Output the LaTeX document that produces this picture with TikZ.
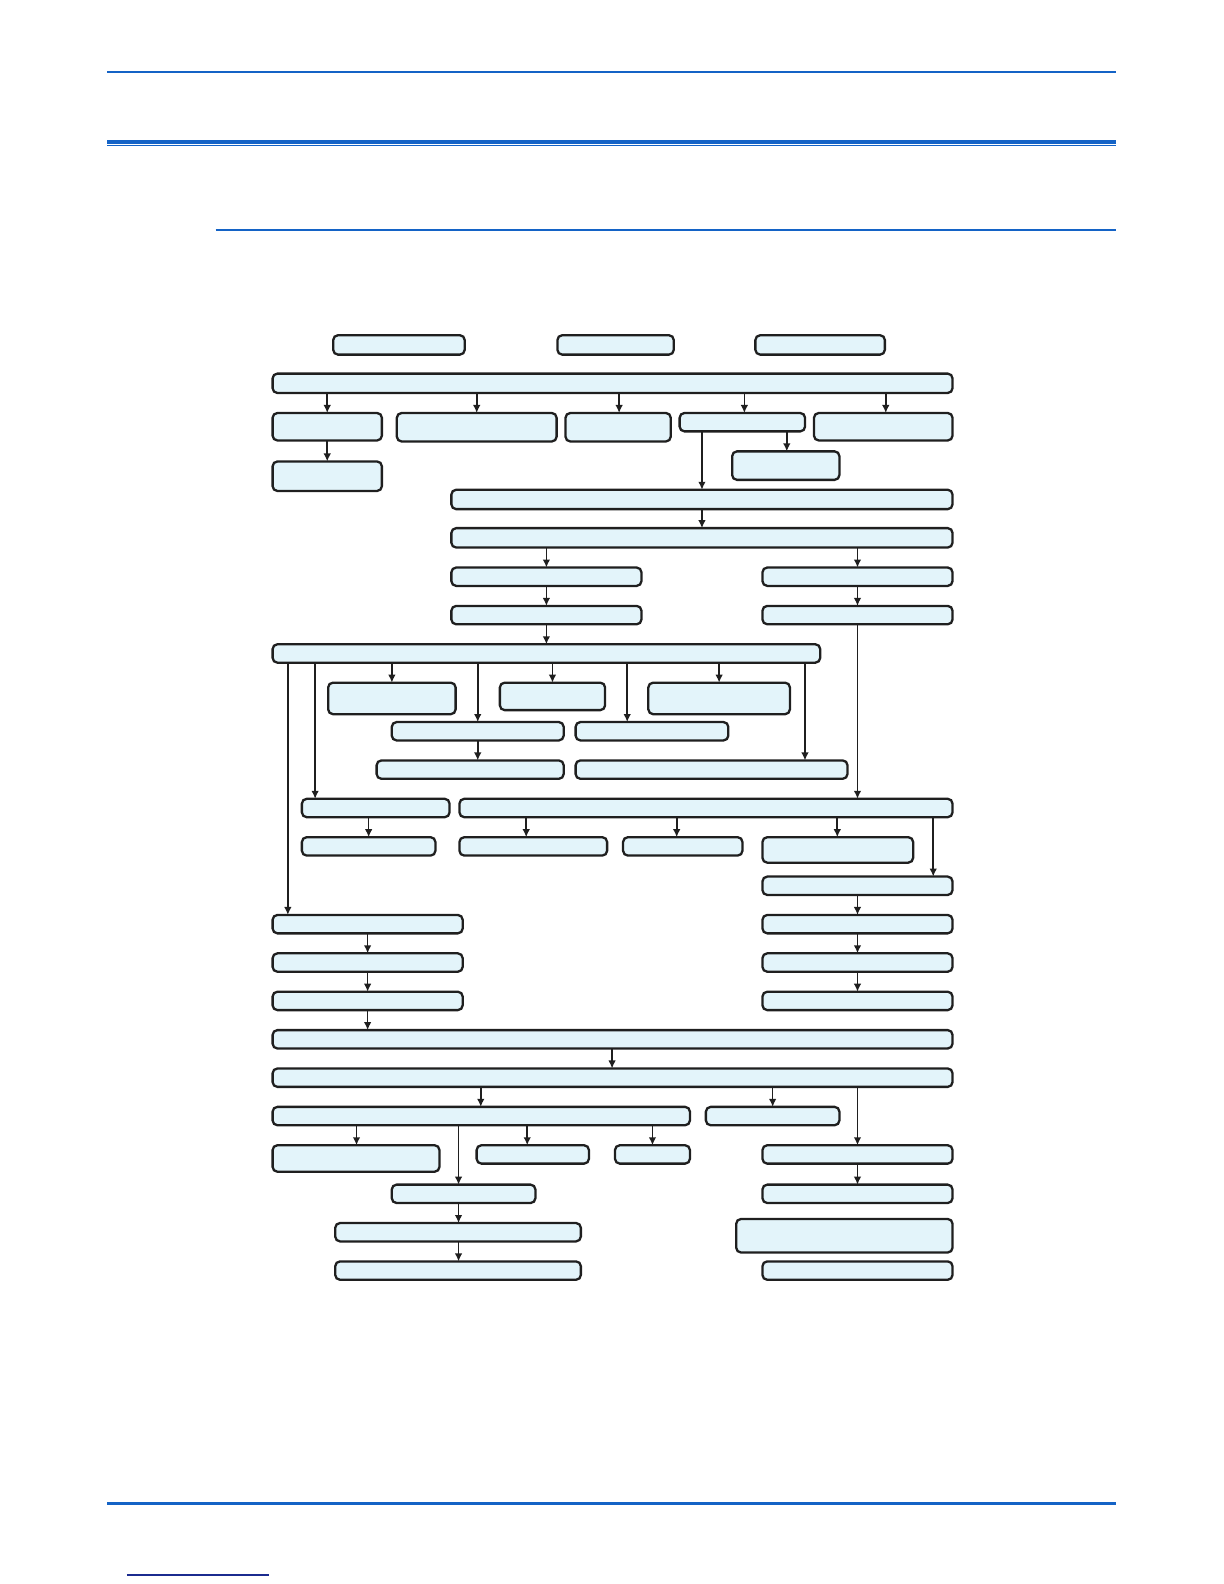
\documentclass[tikz,border=0pt]{standalone}
\usetikzlibrary{arrows.meta}
\definecolor{boxfill}{HTML}{E3F4FA}
\definecolor{boxline}{HTML}{1F1F1F}
\definecolor{rulec}{HTML}{1463C6}
\definecolor{navyc}{HTML}{1B2B8F}
\tikzset{
  box/.style={draw=boxline, fill=boxfill, line width=1.15pt, rounded corners=2.4pt, inner sep=0pt, outer sep=0pt},
  arr/.style={draw=boxline, line width=0.8pt, -{Latex[length=4pt,width=3.8pt]}},
  rulebar/.style={draw=rulec, line width=1.2pt}
}
\newcommand{\bx}[5]{\node[box, minimum width={(#4-#2-1.8)*0.505pt}, minimum height={(#5-#3-1.8)*0.505pt}] (#1) at ({(#2+#4)/2},{(#3+#5)/2}) {};}
\newcommand{\ar}[3]{\draw[arr] (#3,0 |- #1.south) -- (#3,0 |- #2.north);}
\begin{document}
\begin{tikzpicture}[x=0.505pt,y=-0.505pt]
\useasboundingbox (0,0) rectangle (1211.88,1568.32);
% page rules
\draw[rulebar] (106,71) -- (1105,71);
\draw[draw=rulec, line width=1.8pt] (106,140.6) -- (1105,140.6);
\draw[draw=rulec, line width=0.6pt] (106,144.4) -- (1105,144.4);
\draw[rulebar] (213.5,227.6) -- (1105,227.6);
\draw[rulebar] (106,1488.6) -- (1105,1488.6);
\draw[draw=navyc, line width=0.6pt] (125.5,1559.4) -- (266.5,1559.4);
% boxes
\bx{A1}{329}{331}{461}{352}
\bx{A2}{551}{331}{668}{352}
\bx{A3}{747}{331}{877}{352}
\bx{B}{269}{369}{944}{390}
\bx{C1}{269}{408}{379}{437}
\bx{C2}{392}{408}{552}{438}
\bx{C3}{559}{408}{665}{438}
\bx{C4}{672}{408}{798}{428}
\bx{C5}{805}{408}{944}{437}
\bx{D1}{269}{456}{379}{487}
\bx{E}{724}{446}{832}{476}
\bx{F}{446}{484}{944}{505}
\bx{G}{446}{522}{944}{543}
\bx{H1}{446}{561}{636}{581}
\bx{H2}{754}{561}{944}{581}
\bx{I1}{446}{599}{636}{619}
\bx{I2}{754}{599}{944}{619}
\bx{J}{269}{637}{813}{657}
\bx{M1}{324}{675}{452}{708}
\bx{M2}{494}{675}{600}{704}
\bx{M3}{641}{675}{783}{708}
\bx{N1}{387}{714}{559}{734}
\bx{N2}{569}{714}{722}{734}
\bx{O1}{372}{752}{559}{772}
\bx{O2}{569}{752}{840}{772}
\bx{K1}{298}{790}{446}{810}
\bx{K2}{454}{790}{944}{810}
\bx{P1}{298}{828}{432}{848}
\bx{P2}{454}{828}{602}{848}
\bx{P3}{616}{828}{736}{848}
\bx{P4}{754}{828}{905}{855}
\bx{Q}{754}{867}{944}{887}
\bx{L1}{269}{905}{459}{925}
\bx{R2}{754}{905}{944}{925}
\bx{S1}{269}{943}{459}{963}
\bx{S2}{754}{943}{944}{963}
\bx{T1}{269}{981}{459}{1001}
\bx{T2}{754}{981}{944}{1001}
\bx{U}{269}{1019}{944}{1039}
\bx{V}{269}{1057}{944}{1077}
\bx{W1}{269}{1095}{684}{1115}
\bx{W2}{698}{1095}{832}{1115}
\bx{X1}{269}{1133}{436}{1161}
\bx{X2}{471}{1133}{584}{1153}
\bx{X3}{608}{1133}{684}{1153}
\bx{X4}{754}{1133}{944}{1153}
\bx{Y1}{387}{1172}{531}{1192}
\bx{Y4}{754}{1172}{944}{1192}
\bx{Z1}{331}{1210}{576}{1230}
\bx{Z3}{728}{1206}{944}{1241}
\bx{Z2}{331}{1248}{576}{1268}
\bx{Z4}{754}{1248}{944}{1268}
% connectors
\ar{B}{C1}{324} \ar{B}{C2}{472} \ar{B}{C3}{613} \ar{B}{C4}{737} \ar{B}{C5}{877}
\ar{C1}{D1}{324} \ar{C4}{E}{779} \ar{C4}{F}{695} \ar{F}{G}{695}
\ar{G}{H1}{541} \ar{G}{H2}{849} \ar{H1}{I1}{541} \ar{H2}{I2}{849}
\ar{I1}{J}{541} \ar{I2}{K2}{849}
\ar{J}{L1}{285} \ar{J}{K1}{312} \ar{J}{M1}{388} \ar{J}{N1}{473}
\ar{J}{M2}{547} \ar{J}{N2}{621} \ar{J}{M3}{712} \ar{J}{O2}{797}
\ar{N1}{O1}{473} \ar{K1}{P1}{365}
\ar{K2}{P2}{521} \ar{K2}{P3}{670} \ar{K2}{P4}{829} \ar{K2}{Q}{924}
\ar{Q}{R2}{849} \ar{R2}{S2}{849} \ar{S2}{T2}{849}
\ar{L1}{S1}{364} \ar{S1}{T1}{364} \ar{T1}{U}{364} \ar{U}{V}{606}
\ar{V}{W1}{476} \ar{V}{W2}{765} \ar{V}{X4}{849}
\ar{W1}{X1}{353} \ar{W1}{Y1}{454} \ar{W1}{X2}{522} \ar{W1}{X3}{646}
\ar{Y1}{Z1}{454} \ar{Z1}{Z2}{454} \ar{X4}{Y4}{849}
\end{tikzpicture}
\end{document}
